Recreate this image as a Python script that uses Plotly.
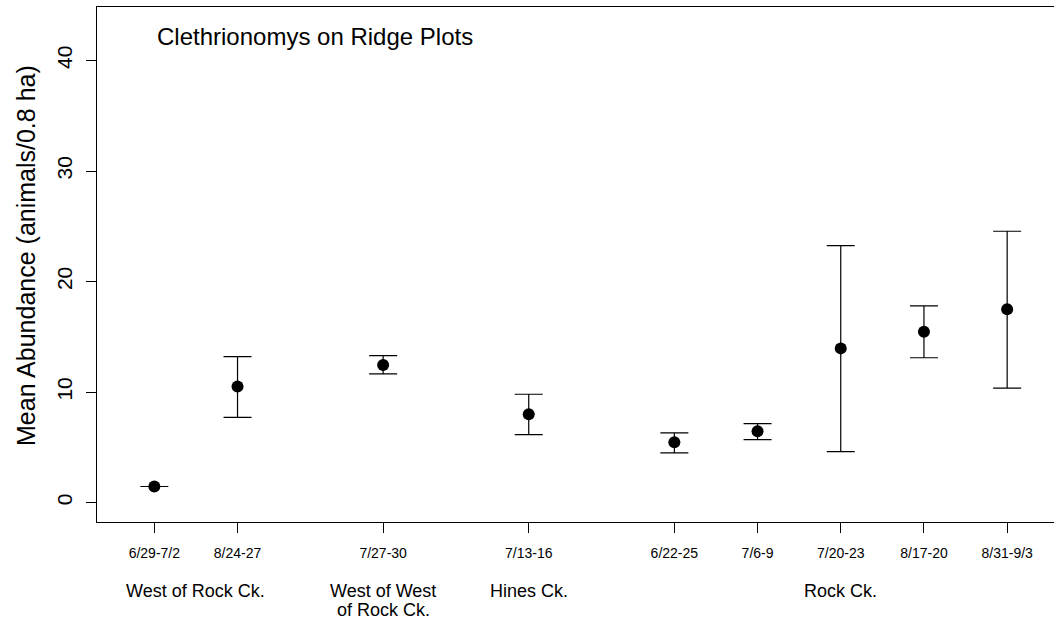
import plotly.graph_objects as go

# ---- data ----
periods = ["6/29-7/2", "8/24-27", "7/27-30", "7/13-16", "6/22-25",
           "7/6-9", "7/20-23", "8/17-20", "8/31-9/3"]
x_pos = [1, 2, 3.75, 5.5, 7.25, 8.25, 9.25, 10.25, 11.25]
mean_abund = [1.45, 10.5, 12.45, 8.0, 5.45, 6.45, 13.95, 15.45, 17.5]
upper_ci = [1.45, 13.2, 13.3, 9.8, 6.3, 7.15, 23.25, 17.8, 24.55]
lower_ci = [1.45, 7.7, 11.65, 6.15, 4.5, 5.7, 4.6, 13.1, 10.35]
group_names = ["West of Rock Ck.", "West of West", "of Rock Ck.", "Hines Ck.", "Rock Ck."]
group_members = [[0, 1], [2], [2], [3], [4, 5, 6, 7, 8]]
group_line = [0, 0, 1, 0, 0]
y_ticks = [0, 10, 20, 30, 40]
title_text = "Clethrionomys on Ridge Plots"
y_title = "Mean Abundance (animals/0.8 ha)"

FONT = "Liberation Sans, Arial, sans-serif"

err_plus = [u - m for u, m in zip(upper_ci, mean_abund)]
err_minus = [m - l for m, l in zip(mean_abund, lower_ci)]

fig = go.Figure()
fig.add_trace(go.Scatter(
    x=x_pos, y=mean_abund, mode="markers",
    marker=dict(color="black", size=12, symbol="circle"),
    error_y=dict(type="data", symmetric=False, array=err_plus, arrayminus=err_minus,
                 color="black", thickness=1.2, width=14),
    showlegend=False, hoverinfo="x+y",
))

# plot geometry
W, H = 1054, 620
ml, mr, mt, mb = 97, 0, 7, 98
ph = H - mt - mb

def ypaper(px):
    return (H - mb - px) / ph

annotations = [
    dict(text=title_text, xref="paper", yref="paper", x=(155 - ml) / (W - ml - mr),
         y=ypaper(37), xanchor="left", yanchor="middle", showarrow=False,
         font=dict(family=FONT, size=24, color="black")),
    dict(text=y_title, xref="paper", yref="paper", x=(26 - ml) / (W - ml - mr),
         y=ypaper(256), xanchor="center", yanchor="middle", textangle=-90,
         showarrow=False, font=dict(family=FONT, size=25, color="black")),
]
for name, members, line in zip(group_names, group_members, group_line):
    cx = sum(x_pos[i] for i in members) / len(members)
    annotations.append(dict(
        text=name, xref="x", yref="paper", x=cx, y=ypaper(591 + 19 * line),
        xanchor="center", yanchor="middle", showarrow=False,
        font=dict(family=FONT, size=18, color="black")))

fig.update_layout(
    width=W, height=H,
    margin=dict(l=ml, r=mr, t=mt, b=mb),
    paper_bgcolor="white", plot_bgcolor="white",
    font=dict(family=FONT, color="black"),
    annotations=annotations,
    xaxis=dict(range=[0.311, 11.813], tickmode="array", tickvals=x_pos, ticktext=periods,
               ticks="outside", ticklen=10, tickwidth=1, tickcolor="black",
               showline=True, linecolor="black", linewidth=1, mirror=True,
               showgrid=False, zeroline=False, ticklabelstandoff=8,
               tickfont=dict(family=FONT, size=14, color="black"), tickangle=0),
    yaxis=dict(range=[-1.76, 44.84], tickmode="array", tickvals=y_ticks,
               ticktext=[str(v) for v in y_ticks],
               ticks="outside", ticklen=10, tickwidth=1, tickcolor="black",
               showline=True, linecolor="black", linewidth=1, mirror=False,
               showgrid=False, zeroline=False, tickangle=-90, ticklabelstandoff=6,
               tickfont=dict(family=FONT, size=21, color="black")),
)

fig.write_html("out.html")
